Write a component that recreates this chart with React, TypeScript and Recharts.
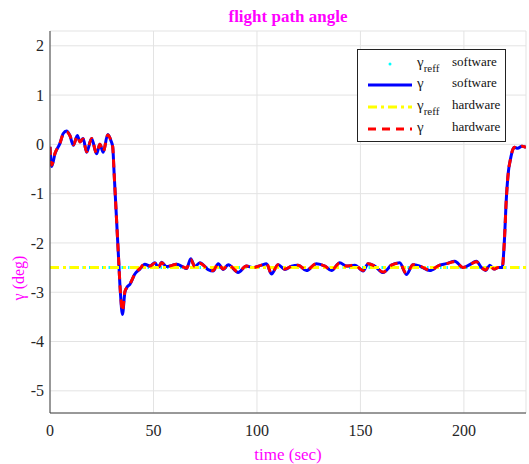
import { LineChart, Line, XAxis, YAxis, CartesianGrid } from 'recharts'

const time = [
  0, 0.8, 2.4, 4.8, 6.4, 8, 9.6, 11.3, 13.2, 14.5,
  16, 17.7, 20.1, 22.5, 24.1, 25.7, 27.9, 29.5, 30.3, 31,
  32, 33, 34, 35, 36.2, 37.2, 38.6, 41, 43.4, 45.8,
  48.3, 50.7, 52.3, 53.9, 56.3, 58.7, 61.1, 63.5, 66, 68,
  70, 72.4, 76.4, 78.8, 81.3, 83.7, 86.1, 90.9, 94.9, 98.2,
  102.2, 104.6, 107, 110.2, 113.5, 116.7, 119.9, 123.9, 128.8, 132.8,
  136, 140, 143.2, 147.3, 151.3, 153.7, 156.9, 161, 165, 169,
  172.2, 175.4, 178.7, 183.5, 188.3, 191.5, 195.6, 199.6, 202.8, 206,
  208.5, 210.5, 212.5, 214.5, 216.5, 218.5, 219.5, 220.5, 221.5, 222.5,
  223.5, 224.5, 226, 228, 230,
]

const gammaSoftware = [
  -0.05, -0.45, -0.19, 0.02, 0.22, 0.27, 0.18, -0.02, 0.18, 0.05,
  0.12, -0.16, 0.12, -0.19, 0.0, -0.16, 0.2, 0.07, -0.05, -0.6,
  -1.4, -2.2, -3.0, -3.45, -3.0, -2.9, -2.84, -2.63, -2.53, -2.43,
  -2.47, -2.4, -2.5, -2.39, -2.48, -2.46, -2.43, -2.47, -2.52, -2.32,
  -2.48, -2.4, -2.54, -2.57, -2.42, -2.54, -2.44, -2.6, -2.47, -2.5,
  -2.45, -2.42, -2.63, -2.44, -2.54, -2.47, -2.45, -2.56, -2.42, -2.47,
  -2.56, -2.4, -2.47, -2.45, -2.57, -2.42, -2.47, -2.6, -2.45, -2.4,
  -2.64, -2.44, -2.47, -2.56, -2.45, -2.42, -2.37, -2.5, -2.44, -2.37,
  -2.5, -2.56, -2.45, -2.53, -2.5, -2.5, -2.0, -1.1, -0.55, -0.3,
  -0.12, -0.06, -0.08, -0.04, -0.06,
]

const gammaHardware = [
  -0.05, -0.42, -0.18, 0.02, 0.21, 0.25, 0.18, -0.01, 0.17, 0.05,
  0.11, -0.15, 0.12, -0.18, 0.0, -0.15, 0.19, 0.07, -0.05, -0.6,
  -1.4, -2.2, -2.98, -3.38, -2.98, -2.9, -2.83, -2.63, -2.52, -2.43,
  -2.47, -2.41, -2.5, -2.4, -2.48, -2.46, -2.43, -2.47, -2.51, -2.34,
  -2.48, -2.41, -2.53, -2.56, -2.42, -2.53, -2.44, -2.59, -2.47, -2.5,
  -2.45, -2.42, -2.62, -2.44, -2.53, -2.47, -2.45, -2.55, -2.42, -2.47,
  -2.55, -2.41, -2.47, -2.45, -2.56, -2.42, -2.47, -2.59, -2.45, -2.41,
  -2.62, -2.44, -2.47, -2.55, -2.45, -2.42, -2.38, -2.5, -2.44, -2.38,
  -2.5, -2.55, -2.45, -2.53, -2.5, -2.5, -2.0, -1.1, -0.55, -0.3,
  -0.12, -0.06, -0.08, -0.04, -0.06,
]

const reffTime = [0, 230]
const gammaReffSoftware = [-2.5, -2.5]
const gammaReffHardware = [-2.5, -2.5]

const xTicks = [0, 50, 100, 150, 200]
const yTicks = [-5, -4, -3, -2, -1, 0, 1, 2]

const FONT = '"Liberation Serif", "Times New Roman", serif'
const MAGENTA = '#ff00ff'
const AXIS = '#404040'

const data = time.map((t, i) => ({ t, sw: gammaSoftware[i], hw: gammaHardware[i] }))
const reffData = reffTime.map((t, i) => ({ t, reffSw: gammaReffSoftware[i], reffHw: gammaReffHardware[i] }))

const legendRows = [
  { sub: 'reff', label: 'software', stroke: '#00ffff', dash: '', dot: true },
  { sub: '', label: 'software', stroke: '#0000ff', dash: '', dot: false },
  { sub: 'reff', label: 'hardware', stroke: '#ffff00', dash: '9 4 3 4', dot: false },
  { sub: '', label: 'hardware', stroke: '#ff0000', dash: '8 6', dot: false },
]

function LegendBox() {
  const rowY = [14, 35, 57, 79]
  return (
    <svg
      width={149}
      height={93}
      style={{ position: 'absolute', left: 357, top: 49, background: '#fff', border: '1px solid #222', boxSizing: 'border-box' }}
    >
      {legendRows.map((r, i) => (
        <g key={i}>
          {r.dot ? (
            <circle cx={32} cy={rowY[i]} r={1.5} fill={r.stroke} />
          ) : (
            <line x1={10} x2={54} y1={rowY[i]} y2={rowY[i]} stroke={r.stroke} strokeWidth={3} strokeDasharray={r.dash} />
          )}
          <text x={59} y={rowY[i] + 3} fontFamily={FONT} fontSize={15} fill="#222">
            γ
            {r.sub && <tspan fontSize={11} dy={5}>{r.sub}</tspan>}
          </text>
          <text x={94} y={rowY[i] + 2} fontFamily={FONT} fontSize={13} fill="#111">{r.label}</text>
        </g>
      ))}
    </svg>
  )
}

export default function App() {
  return (
    <div style={{ position: 'fixed', left: 0, top: 0, width: 529, height: 464, background: '#fff', overflow: 'hidden' }}>
      <div
        style={{
          position: 'absolute', left: 50, top: 6, width: 476, textAlign: 'center',
          fontFamily: FONT, fontWeight: 'bold', fontSize: 17, color: MAGENTA, lineHeight: '22px',
        }}
      >
        flight path angle
      </div>
      <LineChart width={529} height={464} data={data} margin={{ top: 31, right: 3, left: 0, bottom: 0 }}>
        <CartesianGrid stroke="#e3e3e3" strokeWidth={1} />
        <XAxis
          dataKey="t"
          type="number"
          domain={[0, 230]}
          ticks={xTicks}
          allowDataOverflow
          height={51}
          axisLine={{ stroke: AXIS }}
          tickLine={false}
          tickMargin={6}
          tick={{ fontSize: 16, fill: '#262626', fontFamily: FONT }}
          label={{ value: 'time (sec)', position: 'insideBottom', offset: 4, fill: MAGENTA, fontSize: 17, fontFamily: FONT }}
        />
        <XAxis
          xAxisId="top"
          orientation="top"
          dataKey="t"
          type="number"
          domain={[0, 230]}
          ticks={xTicks}
          height={0}
          tick={false}
          tickLine={false}
          axisLine={{ stroke: AXIS }}
        />
        <YAxis
          type="number"
          domain={[-5.45, 2.3]}
          ticks={yTicks}
          allowDataOverflow
          width={50}
          axisLine={{ stroke: AXIS }}
          tickLine={false}
          tickMargin={0}
          tick={{ fontSize: 16, fill: '#262626', fontFamily: FONT }}
          label={{
            content: () => (
              <text x={18} y={278} transform="rotate(-90 18 278)" textAnchor="middle" dominantBaseline="central" fill={MAGENTA} fontSize={16} fontFamily={FONT}>
                γ (deg)
              </text>
            ),
          }}
        />
        <Line data={reffData} dataKey="reffSw" type="linear" stroke="#00ffff" strokeWidth={3} strokeDasharray="1.5 5" dot={false} isAnimationActive={false} />
        <Line dataKey="sw" type="monotone" stroke="#0000ff" strokeWidth={3} dot={false} isAnimationActive={false} />
        <Line data={reffData} dataKey="reffHw" type="linear" stroke="#ffff00" strokeWidth={3} strokeDasharray="9 4 3 4" dot={false} isAnimationActive={false} />
        <Line dataKey="hw" type="monotone" stroke="#ff0000" strokeWidth={3} strokeDasharray="8 6" dot={false} isAnimationActive={false} />
      </LineChart>
      <LegendBox />
    </div>
  )
}
